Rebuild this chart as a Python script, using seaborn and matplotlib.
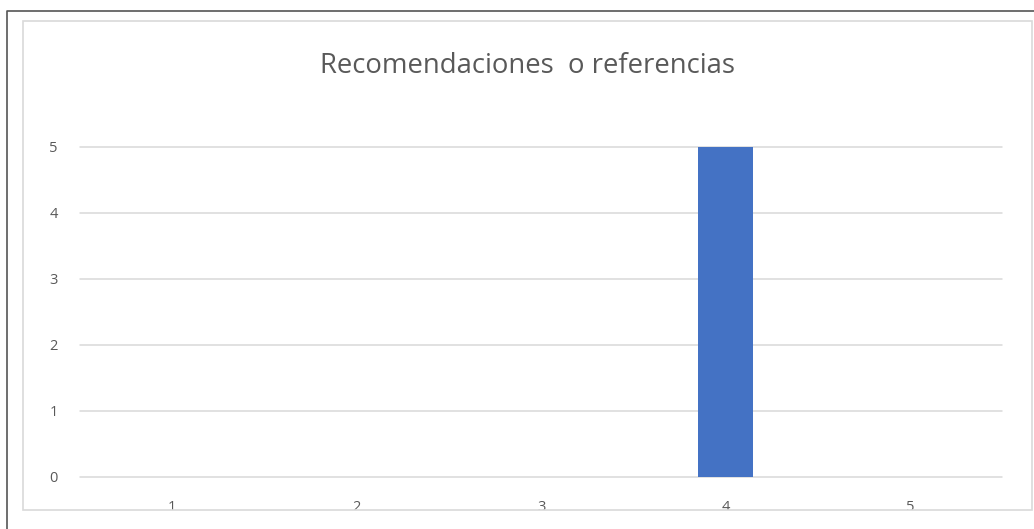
import pandas as pd
import numpy as np

import matplotlib
matplotlib.use("Agg")
import matplotlib.pyplot as plt
import seaborn as sns
from matplotlib.lines import Line2D
from matplotlib.patches import Rectangle


# -------------------------- DATA --------------------------
categories = ["1", "2", "3", "4", "5"]
values = [0, 0, 0, 5, 0]
y_ticks = [0, 1, 2, 3, 4, 5]
title = "Recomendaciones  o referencias"

W, H = 1034, 529


def fx(px):
    return px / W


def fy(py):
    # pixel row (from top) -> figure fraction (from bottom)
    return 1 - py / H


# -------------------------- PLOT --------------------------
sns.set_theme(style="white")
plt.rcParams['font.family'] = ['Open Sans', 'DejaVu Sans']

fig = plt.figure(figsize=(W / 100, H / 100), dpi=100)
fig.patch.set_facecolor("white")

ax = fig.add_axes([fx(80), fy(477), fx(1002) - fx(80), fy(147) - fy(477)])

df = pd.DataFrame({"cat": categories, "val": values})
sns.barplot(x="cat", y="val", data=df, order=categories, color="#4472C4",
            width=0.30, saturation=1, edgecolor="none", linewidth=0,
            ax=ax, zorder=3)

ax.set_ylim(0, 5)
ax.set_xlim(-0.5, len(categories) - 0.5)
ax.set_yticks(y_ticks)
ax.set_xlabel("")
ax.set_ylabel("")
ax.yaxis.grid(True, color="#D9D9D9", linewidth=1.1)
ax.set_axisbelow(True)
for s in ax.spines.values():
    s.set_visible(False)
ax.tick_params(axis="y", length=0, pad=16, labelsize=10.5, labelcolor="#595959")
ax.tick_params(axis="x", length=0, pad=16.5, labelsize=10.5, labelcolor="#595959")
ax.set_facecolor("white")
# gridlines at the edges drawn full width (not half clipped)
for gl in ax.get_ygridlines():
    gl.set_clip_on(False)

fig.text(fx(527), fy(66), title, ha="center", va="center", fontsize=19.8,
         color="#595959")

# cover the bottom strip (cuts the x labels like the screenshot)
fig.patches.append(Rectangle((0, 0), 1, fy(510), transform=fig.transFigure,
                             facecolor="white", edgecolor="none", zorder=5))
# inner light frame
fig.patches.append(Rectangle((fx(23), fy(510)), fx(1032) - fx(23), fy(21) - fy(510),
                             transform=fig.transFigure, facecolor="none",
                             edgecolor="#D9D9D9", linewidth=1.2, zorder=6))
# outer dark frame (only top and left visible)
fig.lines.append(Line2D([fx(7), fx(7), 1.01], [0, fy(11), fy(11)],
                        transform=fig.transFigure, color="#555555",
                        linewidth=1.2, zorder=7))

fig.savefig("out.png", dpi=100)
